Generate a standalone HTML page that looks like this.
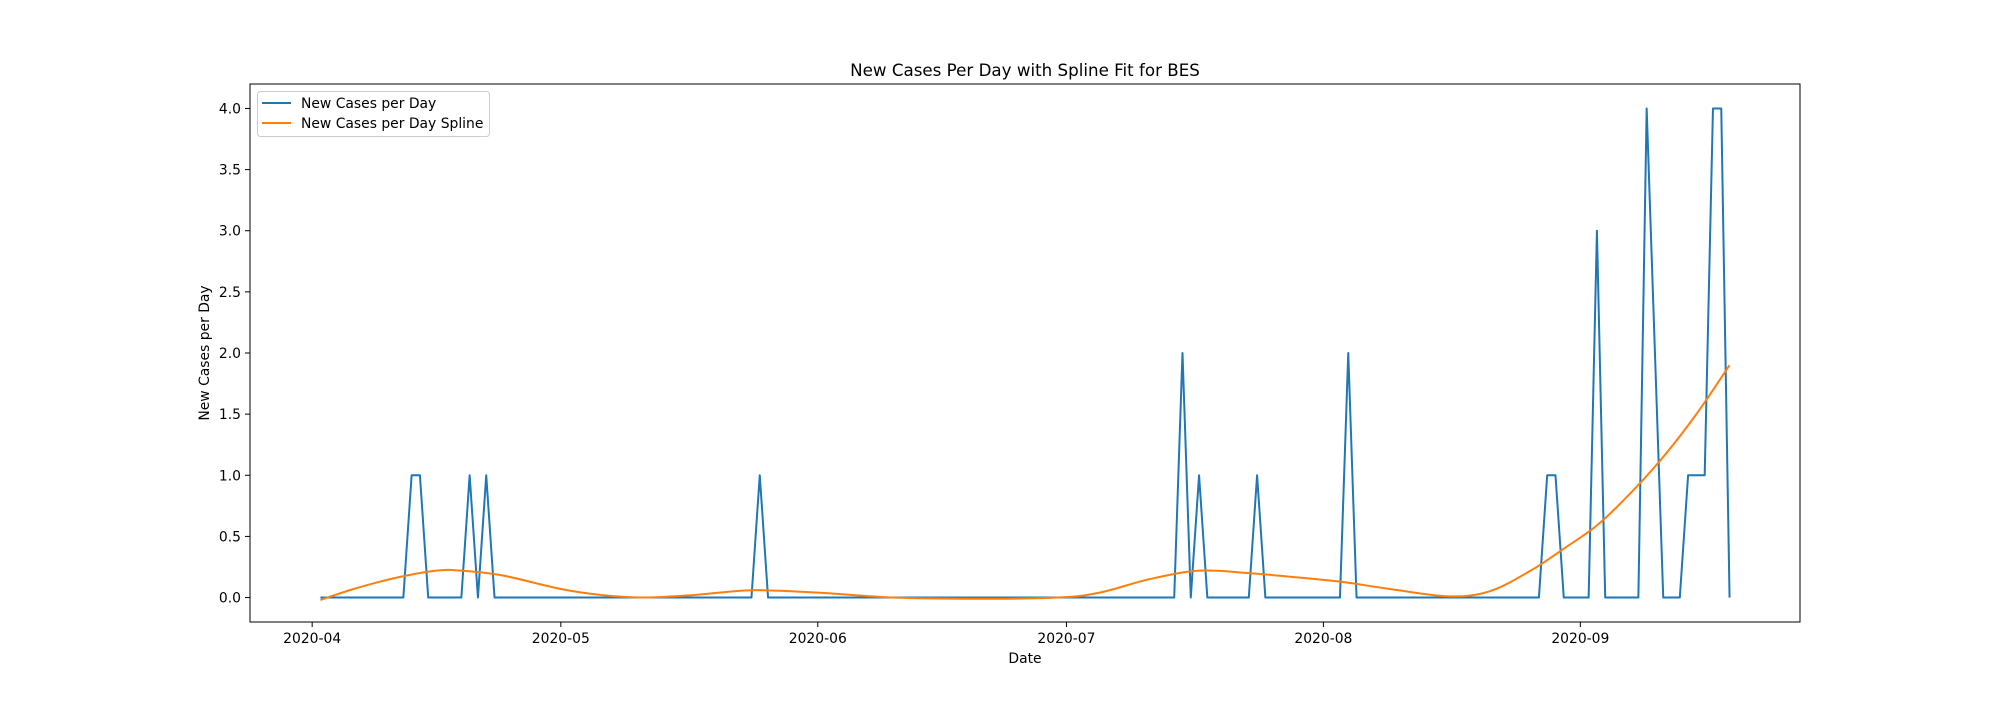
<!DOCTYPE html>
<html><head><meta charset="utf-8"><style>
body{margin:0;background:#fff;}
svg text{font-family:"DejaVu Sans","Liberation Sans",sans-serif;fill:#000;}
</style></head><body>
<svg id="chart" width="2000" height="700" xmlns="http://www.w3.org/2000/svg">
<rect width="2000" height="700" fill="#fff"/>
<text x="1025" y="76" font-size="16.7" text-anchor="middle">New Cases Per Day with Spline Fit for BES</text>
<g id="plot"></g>
<rect x="250" y="84" width="1550" height="538" fill="none" stroke="#000" stroke-width="1"/>
<text x="1025" y="663" font-size="13.9" text-anchor="middle">Date</text>
<text transform="translate(209,353) rotate(-90)" font-size="13.9" text-anchor="middle">New Cases per Day</text>
<g>
<rect x="257.5" y="91.5" width="232" height="45" rx="3" fill="#fff" fill-opacity="0.8" stroke="#ccc"/>
<line x1="262" y1="103" x2="291" y2="103" stroke="#1f77b4" stroke-width="2"/>
<text x="301" y="108" font-size="13.9">New Cases per Day</text>
<line x1="262" y1="123" x2="291" y2="123" stroke="#ff7f0e" stroke-width="2"/>
<text x="301" y="128" font-size="13.9">New Cases per Day Spline</text>
</g>
</svg>
<script>
// days counted from 2020-04-01 (day 0)
const dailyStartDay = 1;
const dailyCount = 171;
const spikeDays = [12,13,19,21,54,105,107,114,125,149,150,155,161,162,166,167,168,169,170];
const spikeValues = [1,1,1,1,1,2,1,1,2,1,1,3,4,2,1,1,1,4,4];
const splineDays = [1,5,10,15,18,23,30,35,40,46,53,61,70,80,90,95,101,107,113,118,124,130,137,142,147,151,155,159,163,167,171];
const splineValues = [-0.02,0.07,0.16,0.22,0.22,0.18,0.07,0.02,0.0,0.02,0.06,0.04,0.0,-0.01,0.0,0.04,0.15,0.22,0.2,0.17,0.13,0.07,0.01,0.05,0.22,0.4,0.59,0.85,1.15,1.5,1.9];
const xTickDays = [0,30,61,91,122,153];
const xTickLabels = ["2020-04","2020-05","2020-06","2020-07","2020-08","2020-09"];
const yTicks = [0,0.5,1,1.5,2,2.5,3,3.5,4];
const yTickLabels = ["0.0","0.5","1.0","1.5","2.0","2.5","3.0","3.5","4.0"];

const dailyValues = new Array(dailyCount).fill(0);
spikeDays.forEach((d,k)=>{dailyValues[d-dailyStartDay]=spikeValues[k];});

const L=250,R=1800,T=84,B=622;
const d0=dailyStartDay, d1=dailyStartDay+dailyValues.length-1;
const xmin=d0-(d1-d0)*0.05, xmax=d1+(d1-d0)*0.05;
const ymin=-0.2, ymax=4.2;
const X=d=>L+(d-xmin)/(xmax-xmin)*(R-L);
const Y=v=>B-(v-ymin)/(ymax-ymin)*(B-T);
const NS='http://www.w3.org/2000/svg';
const g=document.getElementById('plot');
function mk(t,a){const e=document.createElementNS(NS,t);for(const k in a)e.setAttribute(k,a[k]);g.appendChild(e);return e;}

xTickDays.forEach((d,i)=>{
  const x=X(d);
  const t=mk('line',{x1:x,y1:B,x2:x,y2:B+5,stroke:'#000'});
  
  
  const l=mk('text',{x:x,y:B+21,'font-size':13.9,'text-anchor':'middle'});
  l.textContent=xTickLabels[i];
  
  
});
yTicks.forEach((v,i)=>{
  const y=Y(v);
  const t=mk('line',{x1:L-5,y1:y,x2:L,y2:y,stroke:'#000'});
  
  
  const l=mk('text',{x:L-9,y:y+5,'font-size':13.9,'text-anchor':'end'});
  l.textContent=yTickLabels[i];
  
  
});
const p1=dailyValues.map((v,i)=>X(dailyStartDay+i).toFixed(2)+','+Y(v).toFixed(2)).join(' ');
const daily=mk('polyline',{points:p1,fill:'none',stroke:'#1f77b4','stroke-width':2,'stroke-linejoin':'round'});



// smooth curve through spline points (Catmull-Rom to Bezier)
const pts=splineDays.map((d,i)=>[X(d),Y(splineValues[i])]);
let dstr='M'+pts[0][0].toFixed(2)+','+pts[0][1].toFixed(2);
for(let i=0;i<pts.length-1;i++){
  const p0=pts[Math.max(0,i-1)],p1=pts[i],p2=pts[i+1],p3=pts[Math.min(pts.length-1,i+2)];
  const c1x=p1[0]+(p2[0]-p0[0])/6,c1y=p1[1]+(p2[1]-p0[1])/6;
  const c2x=p2[0]-(p3[0]-p1[0])/6,c2y=p2[1]-(p3[1]-p1[1])/6;
  dstr+=' C'+c1x.toFixed(2)+','+c1y.toFixed(2)+' '+c2x.toFixed(2)+','+c2y.toFixed(2)+' '+p2[0].toFixed(2)+','+p2[1].toFixed(2);
}
const spl=mk('path',{d:dstr,fill:'none',stroke:'#ff7f0e','stroke-width':2});


</script>
</body></html>
